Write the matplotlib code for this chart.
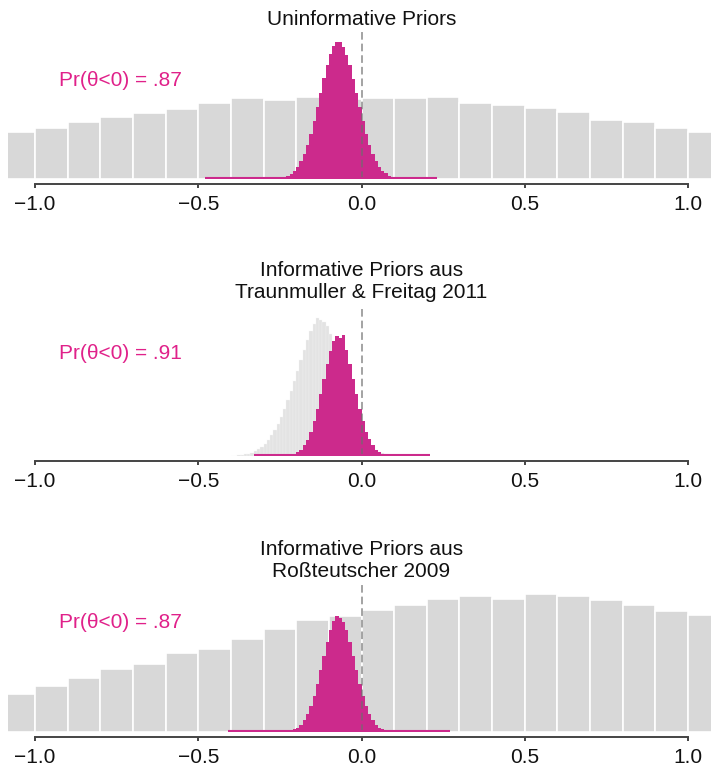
import numpy as np
import matplotlib.pyplot as plt
from matplotlib.transforms import blended_transform_factory

plt.rcParams['font.family'] = ['Liberation Sans', 'DejaVu Sans']

# broad prior histograms (bins of width 0.1 from -1.1 to 1.1)
prior_edges = np.round(np.linspace(-1.1, 1.1, 23), 2)
prior_uninf = [2.33, 2.55, 2.83, 3.08, 3.30, 3.49, 3.82, 4.03, 3.97, 4.11, 4.02,
               4.03, 4.03, 4.12, 3.80, 3.72, 3.55, 3.34, 2.97, 2.87, 2.55, 2.33]
prior_ross = [1.92, 2.30, 2.72, 3.15, 3.42, 3.95, 4.17, 4.65, 5.17, 5.58, 5.80,
              6.08, 6.35, 6.65, 6.82, 6.67, 6.88, 6.81, 6.62, 6.37, 6.07, 5.85]

# narrow prior (Traunmuller & Freitag 2011), bins of width 0.01 from -0.40 to 0.11
prior_tf_edges = np.round(np.linspace(-0.40, 0.11, 52), 3)
prior_tf = [0.01, 0.02, 0.03, 0.05, 0.08, 0.12, 0.17, 0.24, 0.33, 0.45,
            0.60, 0.80, 1.03, 1.30, 1.60, 1.95, 2.35, 2.78, 3.25, 3.75,
            4.25, 4.80, 5.30, 5.80, 6.25, 6.62, 6.90, 6.80, 6.70, 6.50,
            6.10, 5.60, 5.00, 4.30, 3.60, 2.90, 2.30, 1.80, 1.40, 1.10,
            0.85, 0.65, 0.50, 0.38, 0.28, 0.20, 0.14, 0.10, 0.07, 0.05, 0.03]

# posterior histograms, bins of width 0.01
post1_edges = np.round(np.linspace(-0.48, 0.23, 72), 3)
post1 = [0.004, 0.004, 0.005, 0.005, 0.005, 0.006, 0.006, 0.007, 0.007, 0.008,
         0.008, 0.009, 0.010, 0.011, 0.012, 0.013, 0.015, 0.017, 0.020, 0.024,
         0.030, 0.04, 0.05, 0.07, 0.11, 0.17, 0.27, 0.42, 0.62, 0.90,
         1.26, 1.71, 2.26, 2.92, 3.59, 4.31, 5.03, 5.69, 6.24, 6.64,
         6.84, 6.86, 6.62, 6.22, 5.70, 5.00, 4.30, 3.60, 2.90, 2.25,
         1.70, 1.25, 0.90, 0.62, 0.42, 0.28, 0.17, 0.11, 0.07, 0.05,
         0.04, 0.03, 0.024, 0.020, 0.017, 0.015, 0.013, 0.011, 0.010, 0.008,
         0.006]

post2_edges = np.round(np.linspace(-0.33, 0.21, 55), 3)
post2 = [0.004, 0.005, 0.006, 0.007, 0.008, 0.009, 0.011, 0.013, 0.016, 0.025,
         0.035, 0.06, 0.11, 0.19, 0.32, 0.53, 0.82, 1.22, 1.74, 2.37,
         3.09, 3.86, 4.61, 5.27, 5.76, 6.02, 5.92, 6.05, 5.28, 4.60,
         3.85, 3.10, 2.36, 1.75, 1.21, 0.83, 0.53, 0.32, 0.19, 0.11,
         0.06, 0.035, 0.025, 0.018, 0.014, 0.012, 0.010, 0.009, 0.008, 0.007,
         0.006, 0.005, 0.005, 0.004]

post3_edges = np.round(np.linspace(-0.41, 0.27, 69), 3)
post3 = [0.003, 0.003, 0.004, 0.004, 0.005, 0.005, 0.006, 0.006, 0.007, 0.008,
         0.009, 0.010, 0.011, 0.012, 0.014, 0.017, 0.022, 0.03, 0.045, 0.07,
         0.13, 0.22, 0.37, 0.58, 0.89, 1.29, 1.80, 2.41, 3.09, 3.80,
         4.49, 5.09, 5.53, 5.80, 5.70, 5.50, 5.10, 4.48, 3.81, 3.08,
         2.42, 1.79, 1.30, 0.88, 0.58, 0.37, 0.22, 0.13, 0.07, 0.045,
         0.03, 0.022, 0.017, 0.014, 0.012, 0.011, 0.010, 0.009, 0.008, 0.007,
         0.006, 0.006, 0.005, 0.005, 0.004, 0.004, 0.003, 0.003]

titles = ['Uninformative Priors',
          'Informative Priors aus\nTraunmuller & Freitag 2011',
          'Informative Priors aus\nRoßteutscher 2009']
probs = ['Pr(θ<0) = .87', 'Pr(θ<0) = .91', 'Pr(θ<0) = .87']
tick_vals = [-1.0, -0.5, 0.0, 0.5, 1.0]
tick_labels = ['\u22121.0', '\u22120.5', '0.0', '0.5', '1.0']

pink = '#cc2a8c'
W, H = 711, 767
fig = plt.figure(figsize=(W / 100, H / 100), dpi=100)

# panel layout in pixels: baseline y, title offset, label offset
baselines = [179, 456, 732]
title_y = [1.082, 1.19, 1.17]
label_y = [0.667, 0.70, 0.745]
ax_h = 147

panels = [
    (prior_edges, prior_uninf, '#d8d8d8', 1.2, post1_edges, post1),
    (prior_tf_edges, prior_tf, '#e3e3e3', 0.25, post2_edges, post2),
    (prior_edges, prior_ross, '#d8d8d8', 1.2, post3_edges, post3),
]

for i, (pe, pv, pc, plw, qe, qv) in enumerate(panels):
    ax = fig.add_axes([8 / W, (H - baselines[i]) / H, (W - 8) / W, ax_h / H])
    ax.bar(pe[:-1], pv, width=np.diff(pe), align='edge', color=pc,
           edgecolor='#f4f4f4' if i == 1 else 'white', linewidth=plw, zorder=1)
    ax.stairs(qv, qe, fill=True, color=pink, zorder=2)
    ax.hlines(0.03, qe[0], qe[-1], color=pink, lw=1.5, zorder=4)
    ax.axvline(0, color='#6e6e6e', ls=(0, (5, 2.6)), lw=1.1, alpha=0.8, zorder=3)

    ax.set_xlim(-1.0827, 1.0704)
    ax.set_ylim(0, ax_h / 20)
    ax.set_yticks([])
    for s in ['left', 'right', 'top']:
        ax.spines[s].set_visible(False)
    ax.spines['bottom'].set_position(('outward', 3.6))
    ax.spines['bottom'].set_bounds(-1, 1)
    ax.spines['bottom'].set_color('#444444')
    ax.spines['bottom'].set_linewidth(1.4)
    ax.set_xticks(tick_vals)
    ax.set_xticklabels(tick_labels)
    ax.tick_params(axis='x', direction='out', length=3, width=1.4,
                   color='#444444', labelsize=15, pad=5, labelcolor='#111111')

    tr = blended_transform_factory(ax.transData, ax.transAxes)
    ax.text(0, title_y[i], titles[i], transform=tr, ha='center', va='center',
            fontsize=15, color='#111111', linespacing=1.2)
    ax.text(-0.925, label_y[i], probs[i], transform=tr, ha='left', va='center',
            fontsize=15, color='#e0218a')

fig.savefig('out.png', dpi=100)
